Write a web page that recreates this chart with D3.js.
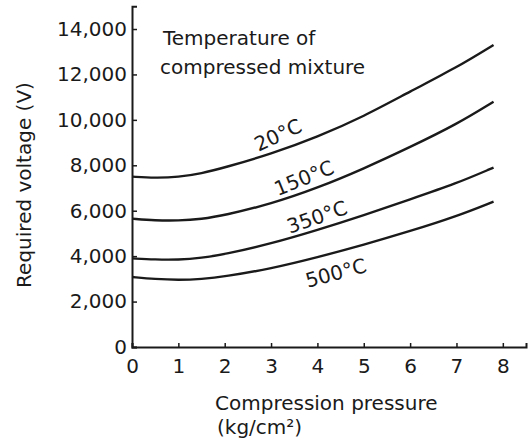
<!DOCTYPE html>
<html>
<head>
<meta charset="utf-8">
<script src="https://cdn.jsdelivr.net/npm/d3@7"></script>
<style>
  html, body { margin: 0; padding: 0; background: #fff; }
  svg { display: block; }
  text { font-family: "DejaVu Sans", sans-serif; fill: #1a1a1a; }
</style>
</head>
<body>
<script>
// ---- data ----
const pressure = [0, 0.5, 1, 1.5, 2, 3, 4, 5, 6, 7, 7.8];           // kg/cm²
const v20  = [7500, 7440, 7480, 7640, 7900, 8500, 9250, 10150, 11250, 12300, 13300];
const v150 = [5650, 5570, 5560, 5630, 5800, 6300, 7000, 7850, 8800, 9800, 10800];
const v350 = [3900, 3850, 3840, 3920, 4080, 4550, 5150, 5800, 6500, 7200, 7900];
const v500 = [3080, 2990, 2950, 2990, 3100, 3450, 3950, 4500, 5100, 5750, 6400];
const seriesNames = ["20°C", "150°C", "350°C", "500°C"];
const seriesValues = [v20, v150, v350, v500];
const xTicks = [0, 1, 2, 3, 4, 5, 6, 7, 8];
const yTicks = [0, 2000, 4000, 6000, 8000, 10000, 12000, 14000];

// ---- layout ----
const W = 531, H = 441;
const FS = 20;
const labelAnchors = [ // [pressure, voltage, rotation]
  [3.15, 9333, -25], [3.71, 7440, -22], [3.99, 5723, -19], [4.40, 3258, -15]
];

const svg = d3.select("body").append("svg").attr("width", W).attr("height", H);

const x = d3.scaleLinear().domain([0, 8.5]).range([132, 526]);
const y = d3.scaleLinear().domain([0, 15000]).range([347, 6.3]);

// axes
const yAxis = d3.axisLeft(y).tickValues(yTicks).tickSize(-5).tickPadding(5)
  .tickFormat(d3.format(","));
const xAxis = d3.axisBottom(x).tickValues(xTicks).tickSize(-4).tickPadding(12);

const gy = svg.append("g").attr("transform", `translate(${x(0)},0)`).call(yAxis);
const gx = svg.append("g").attr("transform", `translate(0,${y(0)})`).call(xAxis);
[gy, gx].forEach(g => {
  g.select(".domain").attr("stroke", "#1a1a1a").attr("stroke-width", 2);
  g.selectAll(".tick line").attr("stroke", "#1a1a1a").attr("stroke-width", 1.5);
  g.selectAll(".tick text").attr("font-family", "DejaVu Sans, sans-serif")
    .attr("font-size", FS).attr("fill", "#1a1a1a");
});

// curves
const line = d3.line().x(d => x(d[0])).y(d => y(d[1])).curve(d3.curveBasis);
seriesValues.forEach(vals => {
  svg.append("path")
    .datum(pressure.map((p, i) => [p, vals[i]]))
    .attr("d", line)
    .attr("fill", "none")
    .attr("stroke", "#1a1a1a")
    .attr("stroke-width", 2.4);
});

// curve labels
seriesNames.forEach((name, i) => {
  const [p, v, r] = labelAnchors[i];
  svg.append("text")
    .attr("transform", `translate(${x(p)},${y(v)}) rotate(${r})`)
    .attr("text-anchor", "middle")
    .attr("dy", "0.35em")
    .attr("font-size", FS)
    .text(name);
});

// legend title
svg.append("text").attr("x", 163).attr("y", 45).attr("font-size", FS).text("Temperature of");
svg.append("text").attr("x", 160).attr("y", 74).attr("font-size", FS).text("compressed mixture");

// axis titles
svg.append("text").attr("x", 215).attr("y", 410).attr("font-size", FS).text("Compression pressure");
svg.append("text").attr("x", 217).attr("y", 434).attr("font-size", FS).text("(kg/cm²)");
svg.append("text")
  .attr("transform", `translate(31,185) rotate(-90)`)
  .attr("text-anchor", "middle")
  .attr("font-size", FS)
  .text("Required voltage (V)");
</script>
</body>
</html>
